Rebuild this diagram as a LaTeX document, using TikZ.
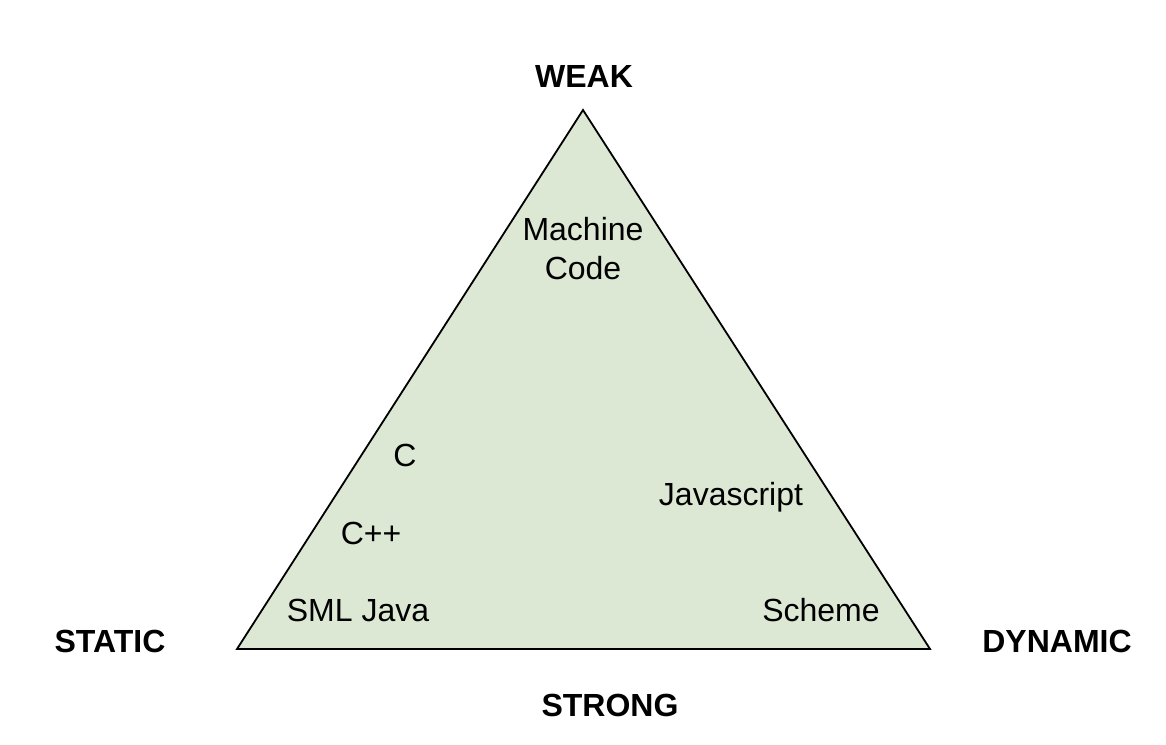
\documentclass[tikz,border=0pt]{standalone}
\usepackage{fontspec}
\setmainfont{Liberation Sans}
\definecolor{trifill}{HTML}{DCE7D4}
\begin{document}
\begin{tikzpicture}[x=1pt,y=-1pt,
  lbl/.style={anchor=base,inner sep=0pt,font=\fontsize{32}{38}\selectfont},
  axis/.style={anchor=base,inner sep=0pt,font=\fontsize{32}{38}\selectfont\bfseries}]
\useasboundingbox (0,0) rectangle (1166,744);
\coordinate (top) at (583,110);
\coordinate (bl) at (237,649);
\coordinate (br) at (930,649);
\draw[fill=trifill,line width=1.8pt,line join=miter] (top) -- (br) -- (bl) -- cycle;
\node[axis] (weak) at (584,87) {WEAK};
\node[axis] (static) at (110,652) {STATIC};
\node[axis] (dynamic) at (1057,652) {DYNAMIC};
\node[axis] (strong) at (610,716) {STRONG};
\node[lbl] (mach) at (583,240) {Machine};
\node[lbl] (code) at (583,279) {Code};
\node[lbl] (c) at (405,466) {C};
\node[lbl] (cpp) at (371,544) {C++};
\node[lbl] (sml) at (358,621) {SML Java};
\node[lbl] (js) at (731,505) {Javascript};
\node[lbl] (scheme) at (821,621) {Scheme};
\end{tikzpicture}
\end{document}
